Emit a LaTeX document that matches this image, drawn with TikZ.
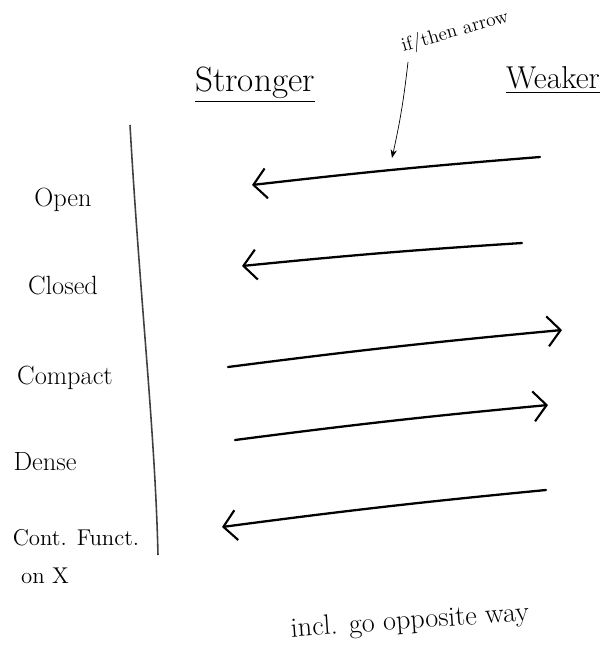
\documentclass[tikz,border=0pt]{standalone}
\usepackage{tikz}
\usetikzlibrary{positioning, arrows.meta}

\begin{document}
\begin{tikzpicture}[
  x=0.02cm, y=-0.02cm,
  lbl/.style={font=\fontsize{15}{17}\selectfont, align=left},
  head/.style={font=\fontsize{20}{24}\selectfont},
  impl/.style={line width=1.3pt, line cap=round, -{Straight Barb[length=2.6mm, width=6mm, line width=1.2pt]}},
  >=Stealth
]
\useasboundingbox (0,0) rectangle (614,654);

% column headings
\node[head]  (strong) at (255,85) {\underline{Stronger}};
\node[head, font=\fontsize{18}{22}\selectfont, inner sep=1pt] (weak) at (553,80) {\underline{Weaker}};
\node[font=\fontsize{11}{13}\selectfont, rotate=16, inner sep=1pt] (note) at (455,32) {if/then arrow};

% properties
\node[lbl] (open)  at (63,200) {Open};
\node[lbl] (closed) at (63,285) {Closed};
\node[lbl] (compact) at (65,378) {Compact};
\node[lbl] (dense) at (45,462) {Dense};
\node[lbl, font=\fontsize{13}{15}\selectfont] (cont) at (76,538) {Cont. Funct.};
\node[lbl, font=\fontsize{13}{15}\selectfont] (onx) at (45,576) {on X};

% divider
\coordinate (top) at (130,125);
\coordinate (bot) at (158,555);
\draw[line width=0.9pt, black!75] (top) .. controls (140,300) and (155,430) .. (bot);

% arrow ends
\coordinate (a1) at (540,157); \coordinate (b1) at (252,185);
\coordinate (a2) at (522,243); \coordinate (b2) at (242,266);
\coordinate (a3) at (228,367); \coordinate (b3) at (562,330);
\coordinate (a4) at (235,440); \coordinate (b4) at (548,405);
\coordinate (a5) at (546,490); \coordinate (b5) at (222,527);
\coordinate (ptr) at (408,62);
\coordinate (hit) at (392,158);

\draw[impl] (a1) to[bend right=1] (b1);
\draw[impl] (a2) to[bend right=1] (b2);
\draw[impl] (a3) to[bend left=1] (b3);
\draw[impl] (a4) to[bend left=1] (b4);
\draw[impl] (a5) to[bend right=1] (b5);

% pointer from note
\draw[->, thin] (ptr) to[bend left=3] (hit);

\node[font=\fontsize{16}{18}\selectfont, rotate=4] (incl) at (410,622) {incl. go opposite way};
\end{tikzpicture}
\end{document}
